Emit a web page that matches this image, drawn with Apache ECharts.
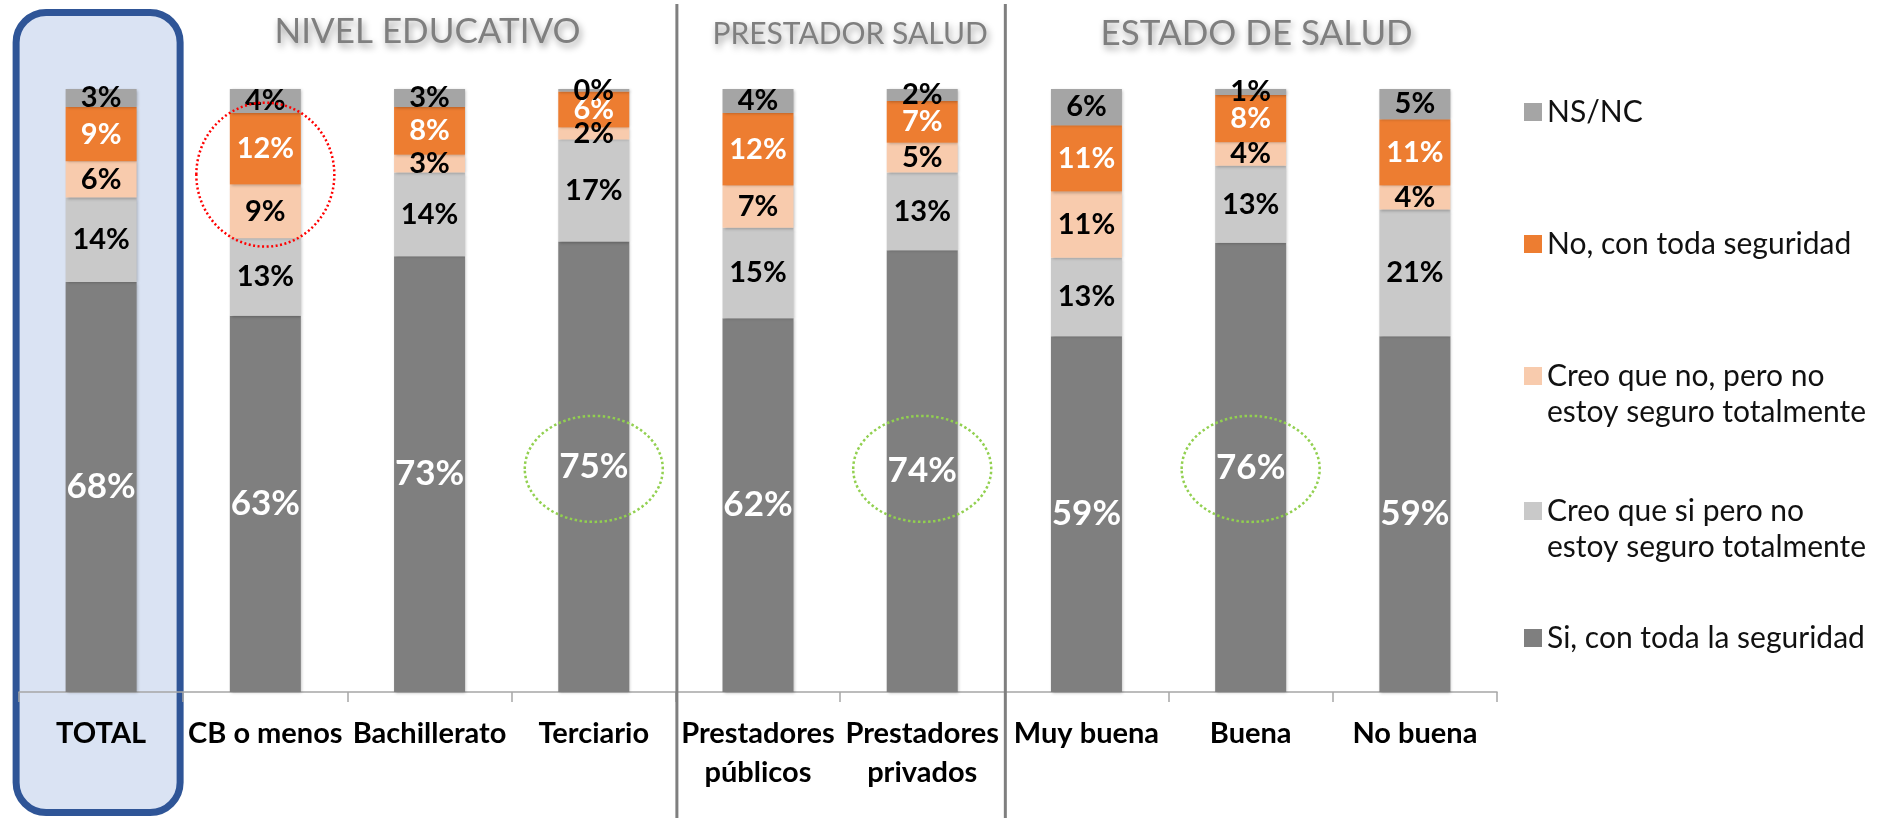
<!DOCTYPE html>
<html>
<head>
<meta charset="utf-8">
<style>
  html, body { margin: 0; padding: 0; background: #fff; }
  #main { width: 1881px; height: 818px; }
</style>
<script src="https://cdn.jsdelivr.net/npm/echarts@6/dist/echarts.min.js"></script>
</head>
<body>
<div id="main"></div>
<script>
// categorias y valores (%)
var categorias = ['TOTAL', 'CB o menos', 'Bachillerato', 'Terciario', 'Prestadores\npúblicos',
                  'Prestadores\nprivados', 'Muy buena', 'Buena', 'No buena'];
var siSeguro  = [68, 63, 73, 75, 62, 74, 59, 76, 59];
var creoQueSi = [14, 13, 14, 17, 15, 13, 13, 13, 21];
var creoQueNo = [6, 9, 3, 2, 7, 5, 11, 4, 4];
var noSeguro  = [9, 12, 8, 6, 12, 7, 11, 8, 11];
var nsnc      = [3, 4, 3, 0.4, 4, 2, 6, 1, 5];

var nombres = ['Si, con toda la seguridad', 'Creo que si pero no\nestoy seguro totalmente',
               'Creo que no, pero no\nestoy seguro totalmente', 'No, con toda seguridad', 'NS/NC'];
var colores = ['#7F7F7F', '#C9C9C9', '#F8CBAD', '#ED7D31', '#A5A5A5'];
var colorEtiqueta = ['#fff', '#000', '#000', '#fff', '#000'];

var grupos = [
    { texto: 'NIVEL EDUCATIVO', desde: 1, hasta: 3 },
    { texto: 'PRESTADOR SALUD', desde: 4, hasta: 5 },
    { texto: 'ESTADO DE SALUD', desde: 6, hasta: 8 }
];

var valores = [siSeguro, creoQueSi, creoQueNo, noSeguro, nsnc];
// barras al 100%
var totales = categorias.map(function (c, i) {
    return valores.reduce(function (s, arr) { return s + arr[i]; }, 0);
});

var myChart = echarts.init(document.getElementById('main'));

var series = valores.map(function (arr, k) {
    return {
        name: nombres[k],
        type: 'bar',
        stack: 'total',
        barWidth: 71,
        data: arr.map(function (v, i) { return v / totales[i] * 100; }),
        itemStyle: {
            color: colores[k],
            shadowBlur: 3,
            shadowColor: 'rgba(0,0,0,0.25)',
            shadowOffsetX: 1,
            shadowOffsetY: 1
        },
        label: {
            show: true,
            position: 'inside',
            fontFamily: 'Lato',
            fontWeight: 'bold',
            fontSize: k === 0 ? 35 : 29,
            color: colorEtiqueta[k],
            formatter: function (p) { return Math.round(arr[p.dataIndex]) + '%'; }
        }
    };
});

// leyenda: una por item para respetar el espaciado
var leyendaTop = [620, 457, 322, 226, 94];
var legends = nombres.map(function (n, k) {
    var dosLineas = n.indexOf('\n') >= 0;
    return {
        data: [n],
        left: 1524,
        top: leyendaTop[k],
        padding: 0,
        orient: 'vertical',
        icon: 'rect',
        itemWidth: 18,
        itemHeight: 18,
        selectedMode: false,
        // linea vacia arriba para que el icono quede junto a la primera linea
        formatter: function (name) { return dosLineas ? '\n' + name : name; },
        textStyle: {
            fontFamily: 'Lato',
            fontSize: 30,
            color: '#111',
            lineHeight: 36
        }
    };
});

myChart.setOption({
    backgroundColor: '#FFFFFF',
    animation: false,
    legend: legends,
    grid: { left: 19, right: 384, top: 89, bottom: 126 },
    xAxis: {
        type: 'category',
        data: categorias,
        axisLine: { lineStyle: { color: '#A6A6A6', width: 1.5 } },
        axisTick: { show: true, length: 10, lineStyle: { color: '#A6A6A6', width: 1.5 } },
        axisLabel: {
            interval: 0,
            margin: 22,
            fontFamily: 'Lato',
            fontWeight: 'bold',
            fontSize: 29,
            lineHeight: 39,
            color: '#000'
        }
    },
    yAxis: { type: 'value', min: 0, max: 100, show: false },
    series: series
});

// anotaciones ubicadas con las escalas del grafico
function px(cat, val) { return myChart.convertToPixel({ gridIndex: 0 }, [cat, val]); }
var ancho = px(1, 0)[0] - px(0, 0)[0];
var graficos = [];

var c0 = px(0, 0)[0];
graficos.push({
    type: 'rect', z: -10,
    shape: { x: c0 - 85, y: 12.5, width: 164, height: 800, r: 30 },
    style: { fill: '#DAE3F3', stroke: '#2F5597', lineWidth: 7 }
});

[3, 5].forEach(function (i) {
    var x = px(i, 0)[0] + ancho / 2 + 1;
    graficos.push({
        type: 'line', z: 10,
        shape: { x1: x, y1: 4, x2: x, y2: 818 },
        style: { stroke: '#7F7F7F', lineWidth: 3 }
    });
});

var tamTitulo = [35, 30, 35];
var yTitulo = [32, 34, 34];
var dxTitulo = [-2, 10, 6];
grupos.forEach(function (g, k) {
    var x = (px(g.desde, 0)[0] + px(g.hasta, 0)[0]) / 2 + dxTitulo[k];
    graficos.push({
        type: 'text', z: 10,
        x: x, y: yTitulo[k],
        style: {
            text: g.texto,
            fill: '#7F7F7F',
            font: tamTitulo[k] + 'px Lato',
            align: 'center',
            verticalAlign: 'middle',
            textShadowColor: 'rgba(0,0,0,0.4)',
            textShadowBlur: 7,
            textShadowOffsetX: 2,
            textShadowOffsetY: 4
        }
    });
});

// elipse roja sobre CB o menos
var pr = px(1, 85.8);
graficos.push({
    type: 'ellipse', z: 20,
    shape: { cx: pr[0], cy: pr[1], rx: 69, ry: 72 },
    style: { fill: 'none', stroke: '#FF0000', lineWidth: 2.5, lineDash: [2, 2.5] }
});
// circulos verdes
[3, 5, 7].forEach(function (i) {
    var p = px(i, 37);
    graficos.push({
        type: 'ellipse', z: 20,
        shape: { cx: p[0], cy: p[1], rx: 69, ry: 53 },
        style: { fill: 'none', stroke: '#92D050', lineWidth: 2.5, lineDash: [2.5, 2.5] }
    });
});

myChart.setOption({ graphic: graficos });
</script>
</body>
</html>
